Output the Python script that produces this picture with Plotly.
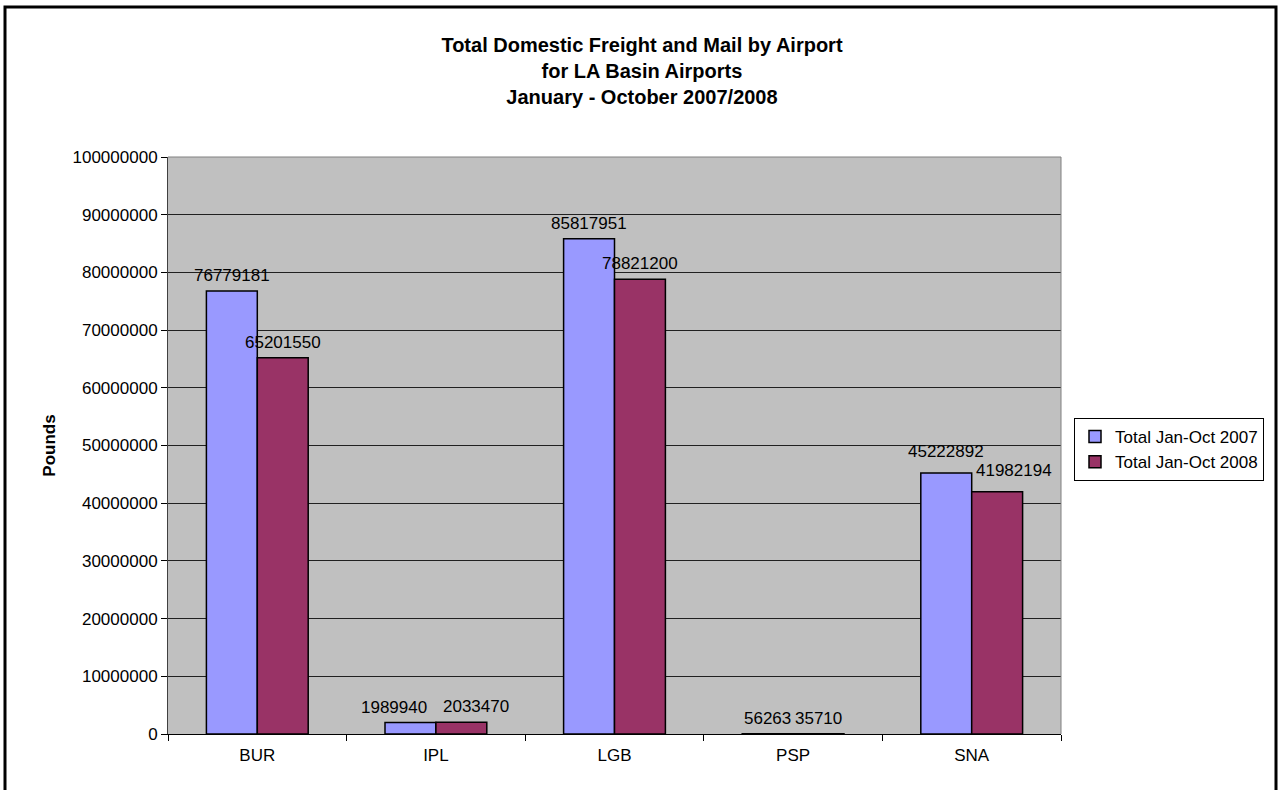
import plotly.graph_objects as go

airports = ["BUR", "IPL", "LGB", "PSP", "SNA"]
total_2007 = [76779181, 1989940, 85817951, 56263, 45222892]
total_2008 = [65201550, 2033470, 78821200, 35710, 41982194]
series_names = ["Total Jan-Oct 2007", "Total Jan-Oct 2008"]
y_ticks = list(range(0, 100000001, 10000000))

# label nudges (dx, dy in px) where adjacent labels would collide
label_nudge = {("IPL", 0): (-16, 0), ("IPL", 1): (15, 0),
               ("SNA", 0): (0, 6), ("SNA", 1): (17, 6)}

W, H = 1282, 790
L, R, T, B = 168, 221, 157, 56
pw, ph = W - L - R, H - T - B
BARGAP = 0.43
bar_px = pw / len(airports) * (1 - BARGAP) / 2
FONT = "Liberation Sans, Arial"
FS = 17

colors = ["#9999FF", "#993366"]
fig = go.Figure()
for name, vals, col in [(series_names[0], total_2007, colors[0]),
                        (series_names[1], total_2008, colors[1])]:
    fig.add_trace(go.Bar(
        x=airports, y=vals, name=name,
        marker=dict(color=col, line=dict(color="black", width=1.5)),
    ))

annotations = []
for si, vals in enumerate([total_2007, total_2008]):
    off = (-0.5 if si == 0 else 0.5) * bar_px
    for a, v in zip(airports, vals):
        dx, dy = label_nudge.get((a, si), (0, 0))
        annotations.append(dict(
            x=a, y=v, xref="x", yref="y", text=str(v), showarrow=False,
            xanchor="center", yanchor="bottom", yshift=4 + dy,
            xshift=off + dx,
            font=dict(family=FONT, size=FS, color="black"),
        ))

fig.update_layout(
    width=W, height=H,
    margin=dict(l=L, r=R, t=T, b=B),
    paper_bgcolor="white", plot_bgcolor="#C0C0C0",
    barmode="group", bargap=BARGAP, bargroupgap=0,
    font=dict(family=FONT, size=FS, color="black"),
    title=dict(
        text="<b>Total Domestic Freight and Mail by Airport<br>for LA Basin Airports<br>January - October 2007/2008</b>",
        x=642 / W, xanchor="center", y=1 - 52 / H, yanchor="top",
        font=dict(size=20),
    ),
    legend=dict(
        x=(1074 - L) / pw, y=(H - B - 418) / ph, xanchor="left", yanchor="top",
        bordercolor="black", borderwidth=1, bgcolor="white",
        font=dict(size=FS), tracegroupgap=0, itemwidth=30,
    ),
    showlegend=True,
    annotations=annotations,
    xaxis=dict(
        tickson="boundaries", ticks="outside", ticklen=6, tickcolor="black",
        showline=True, linecolor="black", linewidth=1, showgrid=False,
        tickfont=dict(size=FS), ticklabelstandoff=6,
    ),
    yaxis=dict(
        range=[0, 100000000], tickvals=y_ticks, ticktext=[str(v) for v in y_ticks],
        ticks="outside", ticklen=6, tickcolor="black",
        showline=True, linecolor="#404040", linewidth=1,
        showgrid=True, gridcolor="#202020", gridwidth=1,
        tickfont=dict(size=FS),
        title=dict(text="<b>Pounds</b>", font=dict(size=FS), standoff=12),
        zeroline=False,
    ),
    shapes=[
        dict(type="rect", xref="paper", yref="paper",
             x0=(5 - L) / pw, x1=(1276 - L) / pw,
             y0=(H - B - 800) / ph, y1=(H - B - 7) / ph,
             line=dict(color="black", width=3), fillcolor="rgba(0,0,0,0)", layer="above"),
        dict(type="line", xref="paper", yref="paper", x0=1, x1=1, y0=0, y1=1,
             line=dict(color="#808080", width=1)),
        dict(type="line", xref="paper", yref="paper", x0=0, x1=1, y0=1, y1=1,
             line=dict(color="#808080", width=1)),
    ],
)

fig.write_html("out.html", config={"displayModeBar": False},
               post_script="document.body.style.margin='0';document.body.style.overflow='hidden';")
